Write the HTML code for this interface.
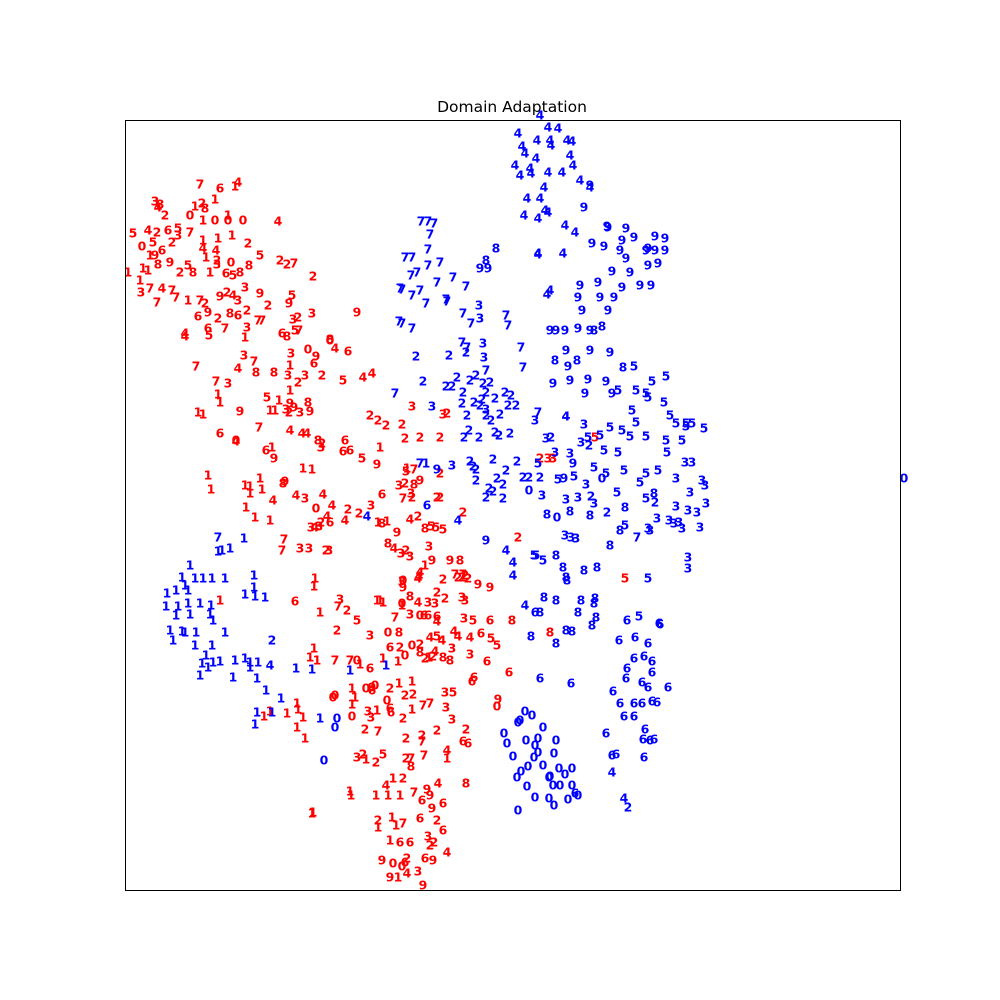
<!DOCTYPE html>
<html><head><meta charset="utf-8"><style>
html,body{margin:0;padding:0;background:#fff}
svg{display:block}
text.d{font-family:"DejaVu Sans","Liberation Sans",sans-serif;font-weight:bold;font-size:12.5px}
</style></head><body>
<svg id="chart" width="1000" height="1000">
<rect x="0" y="0" width="1000" height="1000" fill="#fff"/>
<text x="512" y="112" text-anchor="middle" font-family="DejaVu Sans, Liberation Sans, sans-serif" font-size="15.5">Domain Adaptation</text>
<g id="marks"></g>
<rect x="125.5" y="120.5" width="775" height="770" fill="none" stroke="#000" stroke-width="1"/>
</svg>
<script>
// embedding coordinates (arbitrary units); y axis inverted
const xDomain = [12.5, 90];
const yDomain = [12, 89];
const sourcePts = [[7,20,18.4],[6,22,18.8],[1,23.5,18.6],[4,23.8,18.2],[3,15.5,20.1],[8,16,20.4],[4,15.8,20.7],[2,16.5,21.5],[1,19.5,20.6],[2,20.2,20.3],[8,20.5,20.8],[1,21.5,19.9],[0,19,21.5],[1,20.3,22],[0,21.5,22],[1,22.8,21.5],[0,22.8,22],[0,24.3,22],[5,13.3,23.3],[4,14.8,23],[2,15.7,23.2],[6,16.8,23],[5,17.8,22.8],[3,17.8,23.5],[7,19,23.2],[1,20.3,24],[1,21.8,23.8],[1,23.2,23.5],[2,24.8,24.3],[0,14.2,24.6],[5,15.3,24.2],[2,17.2,24.2],[1,15,25.5],[9,15.5,25.5],[6,16.2,25],[4,20.3,24.8],[4,21.6,25],[1,20.6,25.7],[2,21.7,26],[3,21.7,26.4],[0,23.1,26.2],[8,24.9,26.5],[5,26,25.5],[1,14.3,26.8],[1,14.8,27],[8,15.8,26.4],[9,17,26.2],[5,18.8,26.5],[2,18,27.2],[8,19.3,27.2],[1,21,27.2],[6,22.6,27.3],[5,23.3,27.5],[8,24,27.2],[1,12.8,27.2],[1,14,28],[3,14.1,29.2],[7,15,28.8],[4,16.2,28.8],[7,17.2,29],[7,15.7,30.2],[7,17.6,29.7],[1,18.8,30],[7,20,30],[2,20.5,30.3],[9,22,29.6],[2,22.7,29.2],[4,23.3,29.5],[3,23.8,30],[3,24.5,28.7],[9,26,29.3],[2,26.8,30.5],[6,19.8,31.6],[9,20.8,31.2],[2,21.8,31.8],[8,23,31.3],[6,23.8,31.5],[2,24.7,31],[7,25.8,32],[7,26.2,32],[6,20.8,32.8],[5,20.9,33.5],[7,22.5,32.8],[3,24.7,32.7],[1,24.5,33.7],[4,18.5,33.3],[4,18.5,33.6],[2,28,26],[2,28.7,26.4],[7,29.4,26.3],[2,31.3,27.6],[5,29.2,29.5],[9,28.9,30.3],[2,29.8,31.7],[3,31.2,31.3],[4,27.8,22.1],[6,28.2,33.3],[8,28.7,33.6],[5,29.5,33],[7,29.9,33],[3,29.3,31.9],
[9,35.7,31.2],[8,33,33.9],[0,33,34],[4,33.5,34.8],[6,34.8,35.1],[3,29.1,35.3],[0,30.8,34.9],[9,31.6,35.6],[1,29,36.5],[6,31.4,36.3],[7,19.6,36.6],[3,24.4,35.5],[7,25.4,36.1],[4,23.8,36.8],[8,25.6,37.2],[8,27.4,37.2],[3,28.8,37.5],[1,29,39],[2,29.8,38.2],[3,30.5,37.5],[2,32.2,37.5],[5,34.3,38],[4,36.3,37.7],[4,37.2,37.3],[7,21.6,38.1],[3,22.8,38.3],[1,21.8,39.4],[1,22,40.2],[5,26.7,39.7],[1,27.9,40],[9,29,40.3],[9,29.4,40.7],[8,30.8,40.2],[9,31,41.1],[3,28.6,40.9],[2,28.9,41.2],[3,30,41.2],[1,19.8,41.2],[1,20.3,41.4],[9,24,41.1],[1,27,41],[1,27.5,41],[7,25.9,42.7],[6,22,43.3],[4,23.6,44.1],[0,23.6,44],[6,26.6,45],[1,27.2,44.7],[9,27.4,45.8],[4,29,43],[4,30.2,43.3],[4,30.7,43.3],[8,31.8,44],[2,32.2,44.3],[3,32.1,44.7],[6,34.5,44],[6,34.3,45.1],[6,35,45],[5,36.2,45.8],[9,37.7,46.4],[1,30.3,46.8],[1,31.2,46.9],[8,28.3,48.3],[9,28.5,48.1],[1,20.8,47.5],[1,21.1,48.9],[1,24.5,48.5],[1,25,48.6],[1,26,47.8],[1,26.2,48.9],[1,25,49.3],[4,27.3,50],[1,24.6,50.7],[1,25.5,51.7],[1,27,52],[4,29.6,49.5],[3,30.5,49.8],[4,32.3,49.4],[0,31.6,50.8],[4,33.2,50.5],[4,32.7,51.6],[2,34.8,50.9],[2,35.9,51.3],[2,32.1,52.2],[3,31.1,52.7],[3,31.9,52.6],[4,31.5,52.7],[6,33,52.2],[4,34.5,52],[7,28.4,53.9],[7,28.2,55],[3,30,54.8],[3,30.9,54.8],[2,32.6,55],[3,32.9,55],[1,38,44.7],[3,37.1,50.5],[1,38.7,52.1],[9,39.7,53.2],[4,41,51.9],[2,41.8,51.6],[1,37.8,52.2],[8,38.2,52.3],
[2,37,41.5],[2,37.8,42],[2,38.6,42.5],[3,41.2,40.6],[2,40.5,43.8],[2,42,43.7],[2,44,43.7],[2,40.2,42.4],[3,44.3,41.4],[2,44.7,41.3],[1,40.7,46.8],[5,40.6,47.1],[7,41.4,46.9],[3,39.9,48.5],[8,41.4,48.4],[2,40.5,48.3],[9,42,48],[2,44,47.3],[7,40.3,49.8],[2,41.2,49.7],[3,41.1,49.3],[2,43.7,49.7],[2,44,49.7],[6,38.2,49.4],[8,42.5,52.8],[5,43.1,52.6],[5,43.6,52.7],[3,42.9,54.6],[5,44.3,52.9],[2,46.3,51.2],[2,51.8,53.7],[3,54.8,45.8],
[3,40.1,55.3],[8,38.8,54.3],[4,39.4,54.8],[2,40.6,55],[3,41,55.6],[9,43.2,56],[9,45,56],[8,46,56],[1,42.5,56.5],[2,44.3,57.9],[2,45.8,57.7],[2,46.2,57.7],[2,46.5,57.5],[7,45.5,57.4],[7,46.3,57.4],[2,46.8,57.8],[4,42,57.2],[4,41.9,57.6],[3,40.2,58.1],[0,40.3,58],[9,40.3,58.7],[4,41.8,57.8],[9,47.8,58.4],[9,49,58.7],[3,46.2,59.7],[2,44.5,59.8],[2,43.7,59.2],[8,41,59.6],[4,41.8,60.2],[3,42.8,60.2],[3,43.5,60.3],[3,46.5,60],[1,38.3,60.2],[0,40.2,60.3],[1,40.2,60.5],[3,41,61.4],[0,42,61.5],[6,42.4,61.5],[6,42.8,61.5],[6,43.7,61.6],[4,43.7,62.1],[7,39.5,61.7],[6,49,62],[8,51.2,62],[5,47.3,62],[3,46.4,61.8],[4,45.4,63.1],[4,45.8,63.6],[0,38.8,63.2],[8,39.9,63.2],[4,43,63.7],[5,43.7,63.6],[4,44.2,64],[4,47,63.7],[6,48.1,63.3],[5,49.1,63.8],[5,49.7,64.5],[6,48.7,66.1],[6,50.9,67.2],[6,39,64.7],[2,40,64.7],[0,41.2,64.5],[2,42,64.4],[8,42,65.2],[4,43.5,65.1],[2,42.5,65.8],[1,42.9,65.7],[2,43.3,65.6],[8,44.3,65.7],[8,45,66],[0,40.5,65.5],[1,39.8,66.1],[3,45.2,64.8],[3,47,65.4],[6,47.4,67.7],[6,47.2,68.1],[0,49.7,70.6],[9,49.8,69.9],
[1,31.5,57.8],[1,31.4,58.6],[1,22,60],[1,37.7,60],[1,38,60],[6,29.5,60.1],[3,34,59.9],[7,33.8,60.6],[2,34.7,61],[5,35.7,62],[3,37,63.5],[2,33.7,63],[1,32,61.2],[1,31,65.7],[1,31.4,64.8],[1,35.5,69.7],[7,33.5,66],[7,35,66],[1,36,66.4],[0,35.7,66],[6,37,66.8],[1,38.3,65.8],[1,31.7,66],[0,33.5,69.5],[0,33.3,69.7],[1,35.2,68.8],[0,36.6,68.8],[0,35.2,71.6],[3,36.8,71.1],[3,37.1,71.7],[1,37.7,71],[7,37.8,73.1],[2,36.5,72.9],[6,39,70.8],[2,40.3,71.8],[1,41.2,70.9],[0,38.7,70],[1,41.2,68.1],[2,40.5,69.5],[2,41.3,69.4],[7,42.3,70.5],[7,43,70.3],[3,44.6,70.7],[3,45.2,71.9],[3,44.5,69.2],[5,45.3,69.2],[1,39.9,68.3],[6,37.2,69],[9,37.2,68.7],[2,39,68.8],[0,37.5,68.5],[1,35.2,70.4],[6,39.1,71.2],[1,29.7,70.3],[1,29.8,70.9],[1,28.7,71.3],[1,30.3,71.7],[1,29.7,72.7],[1,30.5,73.8],[1,27,71.1],[1,26.4,71.6],[2,40.6,73.8],[2,42.2,73.5],[7,42.2,74.1],[2,43.7,73],[2,46.6,72.9],[6,46.3,74.1],[6,46.8,74.3],[2,36.3,75.4],[3,35.7,75.7],[1,36.6,75.9],[2,37.6,76.2],[5,38.3,75.4],[2,40.6,75.8],[7,41.1,75.8],[8,41.1,76.6],[7,42.4,75.5],[4,44.7,75],[1,44.7,75.8],[8,46.6,78.3],[4,43.8,78.3],[1,39.3,77.8],[2,40.3,77.8],[4,38.6,78.5],[1,37.6,79.5],[1,38.8,79.5],[1,40,79.5],[7,41.4,79.2],[9,42.7,78.9],[9,43,79.5],[6,42.2,80],[9,43.2,80.8],[6,44.3,80.3],[2,43.7,82],[6,44.3,83],[1,35.1,79.5],[1,35,79.1],[1,31.2,81.3],[1,31.3,81.2],[2,37.8,82],[1,37.8,82.7],[1,39.2,81.7],[1,39.6,82.5],[7,40.3,82.3],[6,42,81.8],[1,39,84],[6,40,84.2],[6,41,84.2],[3,42.8,83.6],[2,43,84.5],[2,43.4,84.2],[4,44.7,85.2],[9,38.2,86],[0,39.3,86.3],[0,40.2,86.6],[6,40.5,86.2],[2,40.7,85.8],[6,42.5,85.8],[9,43.3,86],[3,41.8,87.1],[9,39,87.7],[1,39.8,87.7],[4,40.7,87.3],[9,42.3,88.5],[5,62.5,57.8],[8,55,63.2],[3,55.3,45.8],[2,54,45.8],[5,59.5,43.7]];

const targetPts = [[4,54,11.5],[4,54.8,12.7],[4,55.8,12.8],[4,51.8,13.3],[4,53.7,14],[4,55,14],[4,56.7,14],[4,52.2,14.6],[4,55.1,14.5],[4,57.2,14.1],[4,57,15.5],[4,51.5,16.5],[4,53.6,15.8],[4,52.5,15.3],[4,53,16.8],[4,52,17.5],[4,54.8,17.2],[4,56.2,17.2],[4,53.1,17.3],[4,57.3,16.5],[4,54.4,18.7],[4,58,18],[4,59,18.7],[4,52.7,19.8],[4,54,19.8],[4,52.4,21.5],[4,53.8,21.8],[4,54.8,21.2],[4,54.5,21],[9,58.4,20.7],[4,56.5,22.5],[4,57.5,23.2],[4,53.8,25.3],[4,56.3,25.3],[4,55,29],[4,54.7,29.4],[4,56.6,41.6],
[9,59,18.5],[9,60.7,22.6],[9,62.6,22.8],[9,60.8,22.7],[9,59.2,24.3],[9,60.4,24.6],[9,62.2,24],[9,63.4,23.7],[9,64.8,24.8],[9,62,25],[9,62.6,25.8],[9,64.6,25],[9,65.5,23.6],[9,66.5,23.8],[9,65.5,25],[9,66.5,25],[9,61.2,27.1],[9,63,27.2],[9,64.8,26.5],[9,65.8,26.3],[9,58,28.5],[9,59.8,28.2],[9,62.2,28.7],[9,64,28.5],[9,65.1,28.5],[9,57.8,29.7],[9,60,29.7],[9,61.4,29.7],[9,58.2,31],[9,60.8,31],[9,55,33],[9,55.6,33],[9,56.5,33],[9,57.8,32.8],[9,59,33],[9,56.6,35],[9,59,35],[9,61,35.2],[9,56.8,36.6],[9,55.3,38.3],[9,57,38],[9,58.8,37.9],[9,60.6,38.1],[9,58.5,39.3],[9,61.2,39.3],[9,57.3,46.3],[9,48.6,54],[9,56.4,47.8],[8,59.4,33],[8,60.2,32.6],[8,55.5,36],[8,57.7,36],[8,62.3,36.7],
[7,42.1,22.1],[7,42.8,22.1],[7,43.4,22.3],[7,43,23.4],[7,40.5,25.7],[7,41.2,25.7],[7,42.8,24.9],[7,42.8,26.5],[7,44,26.2],[7,41.7,27.2],[7,41.1,27.5],[7,45.3,27.7],[7,43.7,28.2],[7,40,28.8],[7,40.2,28.9],[7,42,29],[7,41.2,29.5],[7,42.6,30.3],[7,44.6,29.9],[7,44.7,30.1],[7,46.6,28.6],[7,39.9,32.1],[7,41.2,32.8],[7,40.2,32.3],[7,46.3,31.3],[7,47.1,32.3],[3,47.9,30.5],[7,50.6,31.5],[7,50.8,32.5],[7,52.1,34.7],[7,52.3,36.7],[7,48.6,37],[3,48.3,34.3],[3,48.4,35.7],[7,46.2,34.2],[7,46.7,34.7],[7,39.5,39.3],[8,49.6,24.8],[8,48.6,26],[9,48,26.8],[9,48.8,26.8],[4,53.8,25.4],[3,48,31.8],
[2,41.6,35.6],[2,44.9,35.5],[2,46.6,35.2],[2,42.3,38.1],[2,44.6,38.6],[2,45.2,38.6],[2,45.7,37.7],[2,47,38],[2,47.6,37.5],[2,48.3,38.3],[2,49,38.2],[2,46.3,39.2],[2,46.2,40.3],[2,47.4,40.2],[2,48.2,39.9],[2,48.6,39.2],[2,49.5,39.8],[2,50.5,39.2],[2,51.1,39.5],[2,50.8,40.5],[2,51.6,40.5],[2,48,40.5],[2,46.7,41.5],[2,48.6,41.5],[2,49.1,42],[2,50,41.4],[2,49.5,43.2],[2,51,43.3],[2,47.9,43.7],[2,49.9,43.5],[2,46.4,43.7],[2,46.9,43],[2,47,46.1],[2,47.6,46.9],[2,47.6,48],[2,49.3,45.9],[2,48.9,48.8],[2,49.7,47.8],[2,50.6,47],[2,51.7,46.1],[2,50.3,48.4],[2,50.3,49.8],[2,49.3,49.1],[2,52.3,47.7],[2,52.9,47.7],[2,47.3,46.6],[2,48.6,49.7],
[3,43.2,40.6],[3,48.6,40.9],[7,42,46.3],[1,42.6,46.3],[9,43.7,46.9],[3,45.2,46.5],[6,42.7,50.5],[4,45.8,52],[0,52.9,49],[3,54.2,49.5],[2,54,47.7],[3,53.5,42],[2,55.1,43.7],[3,54.6,43.8],[5,53.8,46.3],[4,36.7,51.6],[7,53.8,41.2],[4,56.6,41.6],[3,58.4,42.4],[3,58.1,44.2],[2,58.9,44.5],[3,57,45.3],[3,55.5,45.2],
[5,63.4,36.6],[5,65.2,38.1],[5,66.6,37.6],[5,61.8,39],[5,63.6,39],[5,64.6,39.3],[5,64.8,39.7],[5,66.4,40.2],[5,67,41.5],[5,67.6,42.3],[5,68.6,42.3],[5,69.2,42.3],[5,70.4,42.8],[5,68.6,42.6],[5,63.2,41],[5,63.6,42.2],[5,61,42.7],[5,62.2,43],[5,60,43.5],[5,58.8,43.7],[5,63,43.6],[5,64.6,43.6],[5,66.6,44],[5,68.2,44],[5,60.4,45],[5,61.8,45.2],[5,65.8,47],[5,66.7,45.2],[5,64.6,47.3],[5,62.4,47],[5,60.6,47.3],[5,59.4,46.7],[5,57.4,47.6],[5,61.7,49.2],[5,64,48.2],[5,64.6,49.8],[5,62.5,52.5],[5,55.8,47.9],[5,53.6,55.5],[5,64.8,57.8],
[3,68.5,46.2],[3,69.2,46.2],[3,70.2,48],[3,70.5,48.5],[3,69,49.2],[3,67.6,47.8],[3,70.6,50.3],[3,67.6,50.6],[3,68.8,51],[3,69.7,51.2],[3,66.9,52],[3,67.4,52.3],[3,67.9,52.2],[3,68.2,52.8],[3,70,52.7],[3,65,53],[3,64.8,52.8],[3,65.7,51.8],[3,57.8,49.7],[3,58.6,48.4],[3,56.6,49.9],[3,59.4,50.3],[3,56.5,53.5],[3,57.1,53.7],[3,57.6,53.8],[3,68.8,55.7],[3,68.8,56.8],[0,60.2,47.8],[2,60.7,51.2],[2,59.1,49.6],[2,65.5,50.2],
[8,65.4,49.3],[8,62.5,50.7],[8,59,51.5],[8,57,51.1],[8,54.7,51.4],[0,55.7,51.7],[8,61,54.5],[8,55.6,55.5],[8,56.3,56.7],[8,58.4,57],[8,59.7,56.7],[8,56.7,58],[8,56.6,57.7],[8,54.4,59.7],[8,55.6,60],[8,58.1,60],[8,59.4,60.3],[8,59.5,59.8],[8,54,61.2],[8,57.8,61.2],[8,59.6,61.7],[8,59.2,62.5],[8,53.1,63.6],[8,55.6,64.3],[8,57.2,63.1],[8,56.6,63],[4,51.3,56.2],[4,51.3,57.5],[5,53.4,55.5],[5,54.3,56],[4,52.5,60.5],[6,53.5,61.2],[4,50.6,55],[7,63.7,53.7],[8,62,53],
[6,62.7,62],[6,65.9,62.3],[6,66,62.4],[5,63.9,61.6],[6,61.9,64],[6,63.5,63.7],[6,64.8,64.3],[6,64.4,65.6],[6,65.2,66.1],[6,63.4,65.8],[6,62.7,66.8],[6,65.2,67.2],[6,64.2,68.2],[6,66.8,68.7],[6,64.8,68.7],[6,62.6,67.8],[6,61.3,69.1],[6,62,70.3],[6,63.4,70.3],[6,64.2,70.3],[6,65.2,70.1],[6,65.7,70.2],[6,62.4,71.6],[6,63.4,71.6],[6,64.5,72.9],[6,64.3,73.9],[6,65,74],[6,65.4,73.9],[6,60.6,73.3],[6,61.2,75.5],[6,61.6,75.4],[6,64.4,75.7],[4,61.2,77.2],[4,62.4,79.8],[2,62.8,80.7],[6,57.1,68.3],[6,54,67.8],[6,57.5,79.3],
[0,52,72],[0,51.8,72.2],[0,52.5,71.1],[0,53.2,71.5],[0,54.3,72.7],[0,50.4,73.3],[0,50.7,74.3],[0,52.6,74],[0,53.5,74.5],[0,53.8,73.8],[0,55.6,74],[0,51.3,75.6],[0,53.4,75.7],[0,53.8,75.2],[0,55.4,75.3],[0,57.2,76.8],[0,55.9,76.8],[0,54.3,76.5],[0,52.8,76.6],[0,52.1,77.1],[0,51.7,77.7],[0,55,77.6],[0,54.9,77.7],[0,56.5,77.4],[0,55.3,78.5],[0,57.2,78.5],[0,56,78.5],[0,52.7,78.6],[0,53.5,79.7],[0,54.9,79.8],[0,51.8,81],[0,55.4,80.5],[0,56.8,79.9],[0,57.8,79.5],[0,90.4,47.8],[0,32.4,76],[0,33.7,71.8],[0,33.5,72.7],
[7,21.8,53.7],[1,21.8,55.1],[1,22.2,55],[1,23,54.8],[1,24.4,53.8],[1,19,56.5],[1,18.2,57.7],[1,18.5,58.5],[1,19.5,57.8],[1,20.3,57.8],[1,21.2,57.8],[1,22.5,57.8],[1,25.4,57.5],[1,25.4,58.7],[1,16.7,59.3],[1,17.6,59],[1,18.8,59],[1,16.6,60.6],[1,17.8,60.6],[1,18.8,60.3],[1,20,60.3],[1,21.1,60.5],[1,17.6,61.5],[1,19,61.4],[1,21,61.4],[1,24.5,59.4],[1,25.5,59.6],[1,26.5,59.7],[1,17,63],[1,18.5,63.2],[1,19.6,63.2],[1,22.5,63.2],[1,21.3,62],[1,19.5,64.5],[1,21.2,64.5],[1,17.3,64],[1,18.2,63.1],[1,20.6,65.5],[1,21.3,66.2],[1,20.2,66.3],[1,20.8,66.7],[1,20,67.5],[1,22,66.1],[1,23.5,66],[1,24.5,65.8],[1,25,66.2],[1,25.8,66.2],[2,27.2,64],[4,27,66.5],[1,25.7,67.8],[1,29.6,66.8],[1,31.2,66.9],[1,35,67],[1,38.6,66.5],[1,26.6,69],[1,28.1,69.8],[1,25.7,71.2],[1,25.5,72.4],[1,27.2,71.2],[1,32,71.8],[1,23.3,67.7],[1,25,66.7]];

const xScale = v => 125 + (v - xDomain[0]) / (xDomain[1] - xDomain[0]) * 775;
const yScale = v => 120 + (v - yDomain[0]) / (yDomain[1] - yDomain[0]) * 770;
const NS = 'http://www.w3.org/2000/svg';
const g = document.getElementById('marks');
function draw(pts, color, name) {
  for (const p of pts) {
    const t = document.createElementNS(NS, 'text');
    t.setAttribute('class', 'd');
    t.setAttribute('x', xScale(p[1]).toFixed(1));
    t.setAttribute('y', yScale(p[2]).toFixed(1));
    t.setAttribute('text-anchor', 'middle');
    t.setAttribute('dominant-baseline', 'central');
    t.setAttribute('fill', color);
    
    
    t.textContent = String(p[0]);
    g.appendChild(t);
  }
}
draw(sourcePts, '#ff0000', 'source-digit-point');
draw(targetPts, '#0000ff', 'target-digit-point');
</script>
</body></html>
